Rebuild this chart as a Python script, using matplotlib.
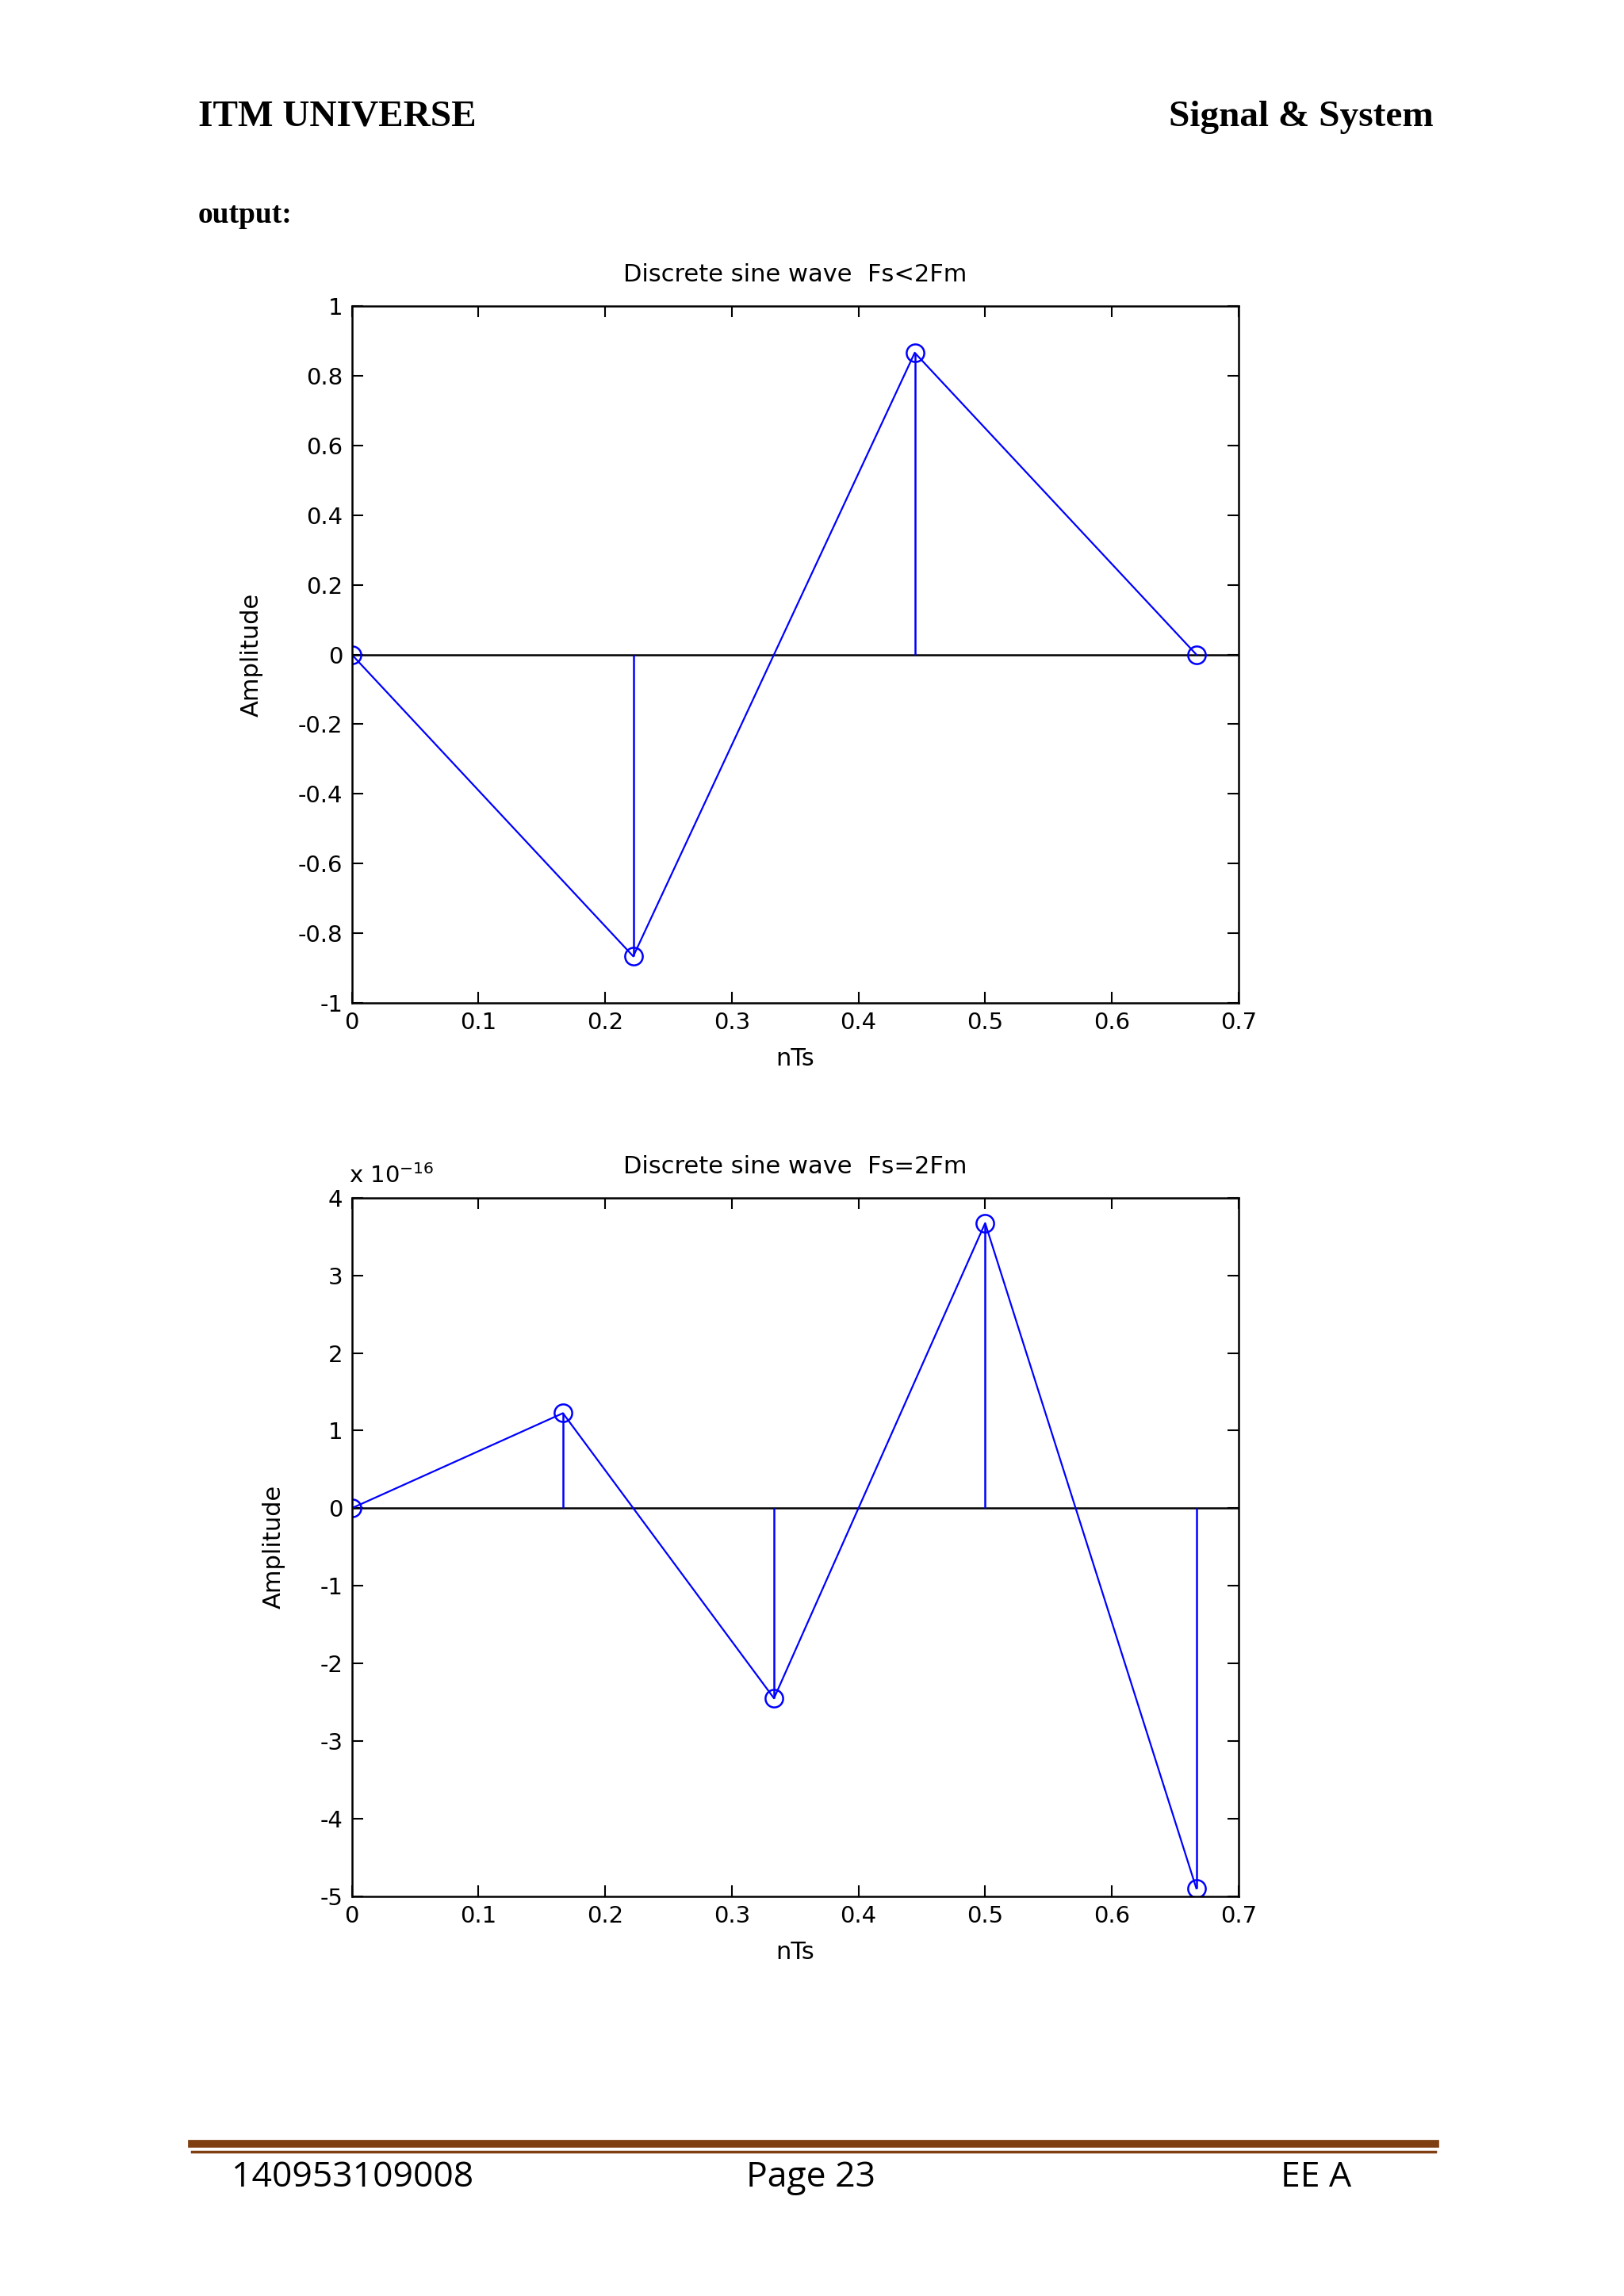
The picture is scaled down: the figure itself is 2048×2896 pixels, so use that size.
import numpy as np
import matplotlib
matplotlib.use('Agg')
import matplotlib.pyplot as plt
from matplotlib.lines import Line2D

# top panel: Fs < 2Fm
n1 = [0.0, 0.2222, 0.4444, 0.6667]
y1 = [0.0, -0.866, 0.866, 0.0]
# bottom panel: Fs = 2Fm (values are numerical noise, order 1e-16)
n2 = [0.0, 0.1667, 0.3333, 0.5, 0.6667]
y2 = [0.0, 1.2246e-16, -2.4493e-16, 3.6739e-16, -4.8986e-16]
xticks = [0, 0.1, 0.2, 0.3, 0.4, 0.5, 0.6, 0.7]
xticklabels = ['0', '0.1', '0.2', '0.3', '0.4', '0.5', '0.6', '0.7']

W, H = 1108, 1568  # layout reference grid
fig = plt.figure(figsize=(20.48, 28.96), dpi=100)

def fx(x): return x / W
def fy(y): return 1 - y / H

def panel(top, bottom, n, y, ylim, yticks, ylabels, title, ylab_x):
    ax = fig.add_axes([fx(240), fy(bottom), fx(845) - fx(240), fy(top) - fy(bottom)])
    ax.axhline(0, color='black', lw=1.8, zorder=1)
    ax.vlines(n, 0, y, color='#0000ff', lw=1.8)
    ax.plot(n, y, color='#0000ff', lw=1.6, marker='o', ms=16, mfc='none', mec='#0000ff', mew=1.8)
    ax.set_xlim(0, 0.7)
    ax.set_ylim(*ylim)
    ax.set_xticks(xticks)
    ax.set_xticklabels(xticklabels)
    ax.set_yticks(yticks)
    ax.set_yticklabels(ylabels)
    ax.tick_params(direction='in', top=True, right=True, length=10, width=1.5, labelsize=21, pad=8)
    for s in ax.spines.values():
        s.set_linewidth(1.8)
    ax.set_title(title, fontsize=22, pad=22)
    ax.set_xlabel('nTs', fontsize=22, labelpad=12)
    ax.set_ylabel('Amplitude', fontsize=22)
    ax.yaxis.set_label_coords(ylab_x, 0.5)
    return ax

panel(209, 685, n1, y1, (-1, 1), np.arange(-1, 1.01, 0.2),
      ['-1', '-0.8', '-0.6', '-0.4', '-0.2', '0', '0.2', '0.4', '0.6', '0.8', '1'],
      'Discrete sine wave  Fs<2Fm', -0.1)

scale = 1e-16
ax2 = panel(818, 1295, n2, [v / scale for v in y2], (-5, 4), range(-5, 5),
            [str(v) for v in range(-5, 5)], 'Discrete sine wave  Fs=2Fm', -0.075)
fig.text(fx(238), fy(808), r'x 10$^{-16}$', fontsize=21, ha='left', va='baseline')

# page header / footer
fig.text(fx(135), fy(80), 'ITM UNIVERSE', fontsize=34, fontweight='bold',
         family='Liberation Serif', va='center')
fig.text(fx(978), fy(80), 'Signal & System', fontsize=34, fontweight='bold',
         family='Liberation Serif', va='center', ha='right')
fig.text(fx(135), fy(147), 'output:', fontsize=27, fontweight='bold',
         family='Liberation Serif', va='center')

fig.add_artist(Line2D([fx(131), fx(979)], [fy(1464), fy(1464)], color='#7f3f10', lw=7))
fig.add_artist(Line2D([fx(131), fx(979)], [fy(1469.5), fy(1469.5)], color='#7f3f10', lw=2.5))
fig.text(fx(158), fy(1487), '140953109008', fontsize=32, family='Open Sans', va='center')
fig.text(fx(553), fy(1487), 'Page 23', fontsize=32, family='Open Sans', va='center', ha='center')
fig.text(fx(922), fy(1487), 'EE A', fontsize=32, family='Open Sans', va='center', ha='right')

fig.savefig('out.png', dpi=100)
